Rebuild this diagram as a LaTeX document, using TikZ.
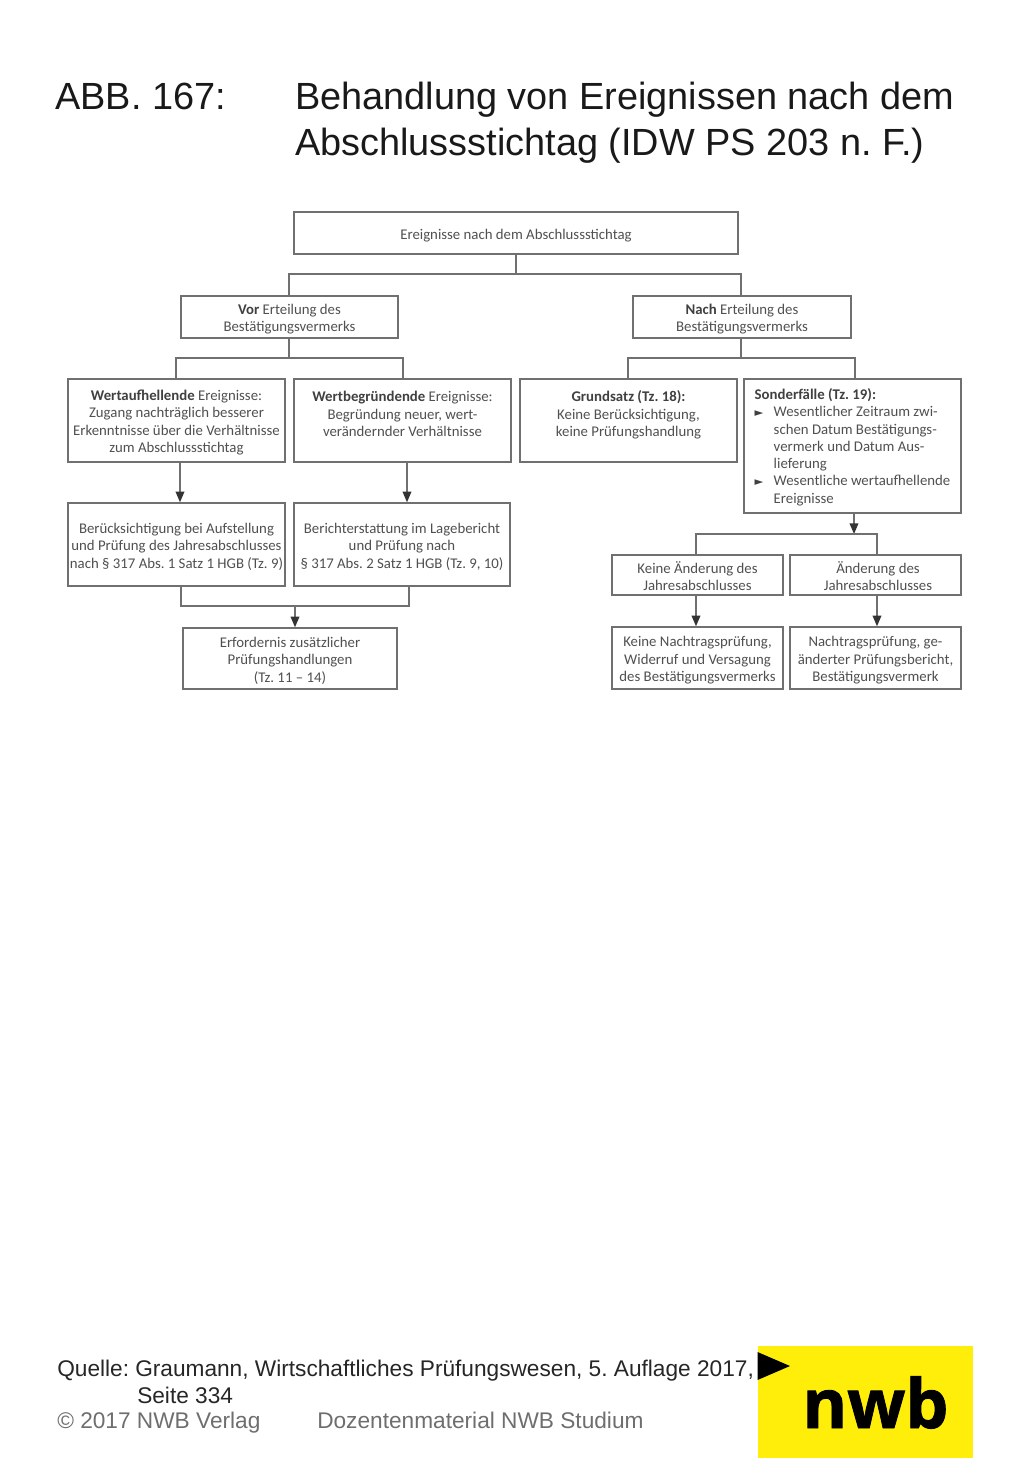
\documentclass[tikz,border=0pt]{standalone}
\usepackage{fontspec}
\setmainfont{Liberation Sans}
\newfontfamily\boxfont{Carlito}
\newfontfamily\logofont[BoldFeatures={FakeBold=1.2}]{Open Sans}
\newfontfamily\symfont{DejaVu Sans}
\usetikzlibrary{arrows.meta,positioning}
\definecolor{boxtext}{HTML}{505050}
\definecolor{boxline}{HTML}{707070}
\definecolor{nwbyellow}{HTML}{FFED0A}
\definecolor{copygray}{HTML}{6E6E6E}
\newcommand{\tri}{\makebox[14.25pt][l]{\symfont\fontsize{8.5pt}{8pt}\selectfont\color{black!75}►}}
\newcommand{\heavy}[1]{{\bfseries\color{black!75}#1}}
\tikzset{
  x=.75pt,y=-.75pt,
  chartbox/.style={draw=boxline,line width=1.1pt,fill=white,inner sep=0pt,text=boxtext,align=center,
    font=\boxfont\fontsize{11.1pt}{12.95pt}\selectfont\frenchspacing},
  link/.style={draw=boxline,line width=1.1pt},
  arrowlink/.style={link,-{Triangle[length=8pt,width=6.5pt,color=black!80]}},
  titletext/.style={anchor=base west,inner sep=0pt,font=\fontsize{28.4pt}{34.5pt}\selectfont\frenchspacing,text=black!90,align=left},
  foottext/.style={anchor=base west,inner sep=0pt,font=\fontsize{17pt}{20pt}\selectfont\frenchspacing,text=black!85},
  copytext/.style={foottext,text=copygray},
}
\newcommand{\cbox}[6]{% name, x1, y1, x2, y2, text
  \node[chartbox,minimum width={(#4-#2)*.75pt},minimum height={(#5-#3)*.75pt}] (#1) at ({(#2+#4)/2},{(#3+#5)/2}) {\rule{0pt}{11pt}#6};}
\begin{document}
\begin{tikzpicture}
\useasboundingbox (0,0) rectangle (1024,1479);
\node[titletext] (abb) at (55,109) {ABB. 167:};
\node[titletext] (ttl1) at (295,109) {Behandlung von Ereignissen nach dem};
\node[titletext] (ttl2) at (295,155) {Abschlussstichtag (IDW PS 203 n. F.)};

\cbox{top}{294}{212}{738}{254}{Ereignisse nach dem Abschlussstichtag}
\cbox{vor}{181}{296}{398}{338}{\heavy{Vor} Erteilung des\\Bestätigungsvermerks}
\cbox{nach}{633}{296}{851}{338}{\heavy{Nach} Erteilung des\\Bestätigungsvermerks}
\cbox{wa}{68}{379}{285}{462}{\heavy{Wertaufhellende} Ereignisse:\\Zugang nachträglich besserer\\Erkenntnisse über die Verhältnisse\\zum Abschlussstichtag}
\cbox{wb}{294}{379}{511}{462}{\heavy{Wertbegründende} Ereignisse:\\Begründung neuer, wert-\\verändernder Verhältnisse\\\mbox{}}
\cbox{gr}{520}{379}{737}{462}{\heavy{Grundsatz (Tz. 18):}\\Keine Berücksichtigung,\\keine Prüfungshandlung\\\mbox{}}
\node[chartbox,minimum width={217*.75pt},minimum height={134*.75pt},align=left] (so) at (852.5,446)
 {\rule{0pt}{10pt}\heavy{Sonderfälle (Tz. 19):}\\
  \tri Wesentlicher Zeitraum zwi-\\
  \hspace*{14.25pt}schen Datum Bestätigungs-\\
  \hspace*{14.25pt}vermerk und Datum Aus-\\
  \hspace*{14.25pt}lieferung\\
  \tri Wesentliche wertaufhellende\\
  \hspace*{14.25pt}Ereignisse};
\cbox{ba}{68}{503}{285}{586}{Berücksichtigung bei Aufstellung\\und Prüfung des Jahresabschlusses\\nach § 317 Abs. 1 Satz 1 HGB (Tz. 9)}
\cbox{bb}{294}{503}{510}{586}{Berichterstattung im Lagebericht\\und Prüfung nach\\§ 317 Abs. 2 Satz 1 HGB (Tz. 9, 10)}
\cbox{er}{183}{628}{397}{689}{Erfordernis zusätzlicher\\Prüfungshandlungen\\(Tz. 11 – 14)}
\cbox{ka}{612}{555}{783}{595}{Keine Änderung des\\Jahresabschlusses}
\cbox{kb}{790}{555}{961}{595}{\hspace*{3.75pt}Änderung des\\\hspace*{3.75pt}Jahresabschlusses}
\cbox{na}{612}{627}{783}{689}{Keine Nachtragsprüfung,\\Widerruf und Versagung\\des Bestätigungsvermerks}
\cbox{nb}{790}{627}{961}{689}{Nachtragsprüfung, ge-\\änderter Prüfungsbericht,\\Bestätigungsvermerk}

% junction coordinates
\coordinate (j1) at (516,274);
\coordinate (j2) at (289,358);
\coordinate (j3) at (741,358);
\coordinate (j4) at (295,606);
\coordinate (j5) at (854,534);
\coordinate (xwa) at (176,0);
\coordinate (xwb) at (403,0);
\coordinate (xgr) at (628,0);
\coordinate (xso) at (855,0);
\coordinate (xa) at (180,0);
\coordinate (xb) at (407,0);
\coordinate (xc) at (181,0);
\coordinate (xd) at (409,0);
\coordinate (xe) at (696,0);
\coordinate (xf) at (877,0);
\coordinate (xg) at (289,0);
\coordinate (xh) at (741,0);

\draw[link] (j1 |- top.south) -- (j1);
\draw[link] (xg |- vor.north) -- (xg |- j1) -- (xh |- j1) -- (xh |- nach.north);
\draw[link] (xg |- vor.south) -- (j2);
\draw[link] (xwa |- wa.north) -- (xwa |- j2) -- (xwb |- j2) -- (xwb |- wb.north);
\draw[link] (xh |- nach.south) -- (j3);
\draw[link] (xgr |- gr.north) -- (xgr |- j3) -- (xso |- j3) -- (xso |- so.north);
\draw[arrowlink] (xa |- wa.south) -- (xa |- ba.north);
\draw[arrowlink] (xb |- wb.south) -- (xb |- bb.north);
\draw[link] (xc |- ba.south) -- (xc |- j4) -- (xd |- j4) -- (xd |- bb.south);
\draw[arrowlink] (j4) -- (j4 |- er.north);
\draw[arrowlink] (j5 |- so.south) -- (j5);
\draw[link] (xe |- ka.north) -- (xe |- j5) -- (xf |- j5) -- (xf |- kb.north);
\draw[arrowlink] (xe |- ka.south) -- (xe |- na.north);
\draw[arrowlink] (xf |- kb.south) -- (xf |- nb.north);

% footer
\node[foottext] (q1) at (57,1376) {Quelle:};
\node[foottext] (q2) at (135,1376) {Graumann, Wirtschaftliches Prüfungswesen, 5. Auflage 2017,};
\node[foottext] (q3) at (137,1403) {Seite 334};
\node[copytext] (c1) at (57,1428) {© 2017 NWB Verlag};
\node[copytext] (c2) at (317,1428) {Dozentenmaterial NWB Studium};

% logo
\fill[nwbyellow] (757.5,1346) rectangle (973,1458);
\fill[black] (757.5,1352) -- (790,1366) -- (757.5,1380) -- cycle;
\node[anchor=base,inner sep=0pt,font=\logofont\bfseries\fontsize{51pt}{51pt}\selectfont,text=black] (logo) at (875.5,1428) {nwb};
\end{tikzpicture}
\end{document}
